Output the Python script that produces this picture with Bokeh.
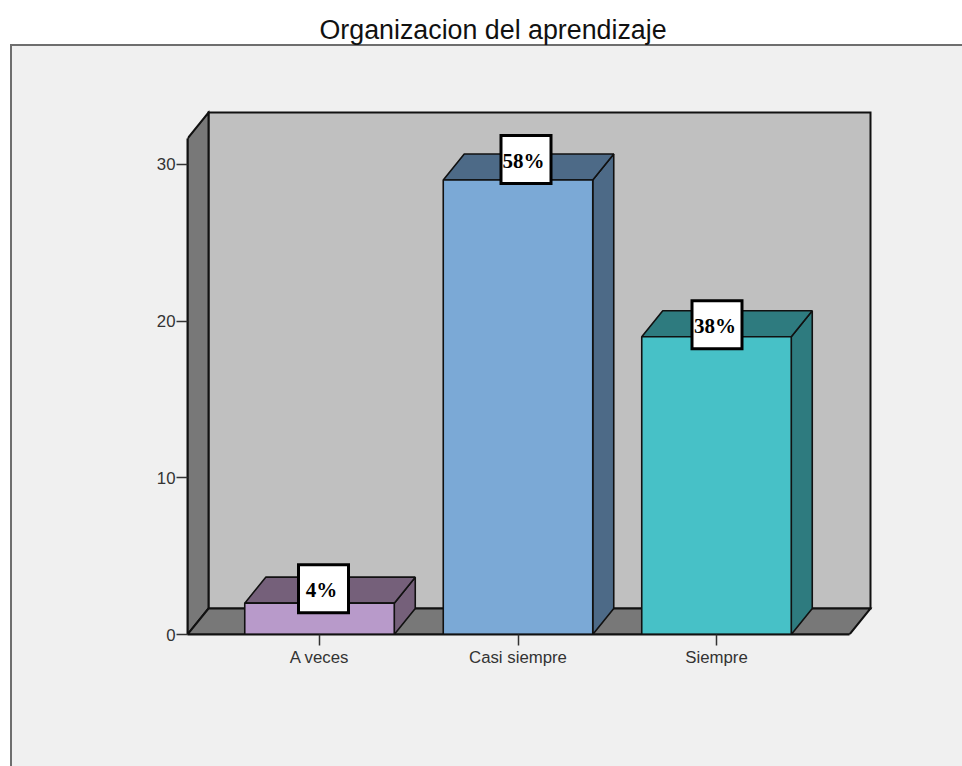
from bokeh.plotting import figure
from bokeh.models import FixedTicker, Range1d, Title
from bokeh.core.properties import value
from bokeh.embed import file_html
from bokeh.resources import INLINE

# ---- data
categories = ["A veces", "Casi siempre", "Siempre"]
counts = [2, 29, 19]
percent_labels = ["4%", "58%", "38%"]
y_ticks = [0, 10, 20, 30]
title_text = "Organizacion del aprendizaje"

# ---- styling
front_colors = ["#b89aca", "#7ba9d6", "#47c1c7"]
shade_colors = ["#75607a", "#4d6a87", "#2e7b7f"]
WALL, FLOOR, BACK, PANEL = "#787878", "#787878", "#c0c0c0", "#f0f0f0"
EDGE = "#111111"

# ---- geometry in scale units (1 x unit = one category step)
PX_X, PX_Y = 198.5, 15.67
bar_w = 149.5 / PX_X
dx = 21 / PX_X
dy = 26 / PX_Y
x_min = -132 / PX_X
x_floor_end = x_min + 662 / PX_X
label_dx = [4 / PX_X, 8 / PX_X, 0.5 / PX_X]      # label box offset from bar centre
label_dy = [-11.5 / PX_Y, -5.5 / PX_Y, -14 / PX_Y]
label_text_dx = [-2, -2.5, -2]

W, H = 962, 766
F_L, F_R, F_T, F_B = 187, 872, 110, 634  # frame edges in window pixels

p = figure(width=W, height=H, output_backend="svg", toolbar_location=None,
           x_range=Range1d(x_min, x_min + (F_R - F_L) / PX_X),
           y_range=Range1d(0, (F_B - F_T) / PX_Y),
           min_border_left=F_L, min_border_right=W - F_R,
           min_border_top=F_T, min_border_bottom=H - F_B,
           border_fill_color=None, background_fill_color=None,
           outline_line_color=None)
p.xgrid.visible = False
p.ygrid.visible = False

# outer panel: grey sheet with a darker top and left edge, behind the canvas
p.styles = {"background":
            f"linear-gradient({PANEL},{PANEL}) 12px 46px / 100% 100% no-repeat,"
            "linear-gradient(#6e6e6e,#6e6e6e) 10px 44px / 100% 100% no-repeat,"
            "white"}

# walls
p.patch([x_min + dx, x_floor_end + dx, x_floor_end + dx, x_min + dx],
        [dy, dy, (F_B - 112) / PX_Y, (F_B - 112) / PX_Y],
        fill_color=BACK, line_color=EDGE, line_width=2, line_join="miter")
p.patch([x_min, x_min + dx, x_min + dx, x_min],
        [0, dy, (F_B - 112) / PX_Y, (F_B - 138) / PX_Y],
        fill_color=WALL, line_color=EDGE, line_width=2, line_join="miter")
p.patch([x_min, x_floor_end, x_floor_end + dx, x_min + dx],
        [0, 0, dy, dy], fill_color=FLOOR, line_color=EDGE, line_width=2, line_join="miter")

# bars
for i, v in enumerate(counts):
    l, r = i - bar_w / 2, i + bar_w / 2
    p.patch([r, r + dx, r + dx, r], [0, dy, v + dy, v],
            fill_color=shade_colors[i], line_color=EDGE, line_width=1.6)
    p.patch([l, r, r + dx, l + dx], [v, v, v + dy, v + dy],
            fill_color=shade_colors[i], line_color=EDGE, line_width=1.6)
    p.patch([l, r, r, l], [0, 0, v, v],
            fill_color=front_colors[i], line_color=EDGE, line_width=1.6)

# percent labels
lx = [i + label_dx[i] for i in range(3)]
ly = [counts[i] + dy + label_dy[i] for i in range(3)]
p.rect(lx, ly, width=50, height=48, width_units="screen", height_units="screen",
       fill_color="white", line_color="black", line_width=3, line_join="miter")
p.text(lx, ly, text=percent_labels, text_font=value("Liberation Serif"),
       text_font_style="bold", text_font_size="21px", text_color="black",
       text_align="center", text_baseline="middle",
       x_offset=label_text_dx, y_offset=1)

# axes
p.yaxis.ticker = FixedTicker(ticks=y_ticks)
p.yaxis.bounds = (0, (F_B - 138) / PX_Y)
p.xaxis.ticker = FixedTicker(ticks=list(range(len(categories))))
p.xaxis.major_label_overrides = {i: c for i, c in enumerate(categories)}
p.xaxis.bounds = (x_min, x_floor_end)
for ax in (p.xaxis, p.yaxis):
    ax.major_tick_in = 0
    ax.major_tick_out = 11
    ax.minor_tick_in = 0
    ax.minor_tick_out = 0
    ax.major_tick_line_color = "#333333"
    ax.major_tick_line_width = 1.5
    ax.axis_line_color = EDGE
    ax.axis_line_width = 2
    ax.major_label_text_font = "Liberation Sans"
    ax.major_label_text_font_size = "16.8px"
    ax.major_label_text_color = "#333333"
    ax.major_label_standoff = 1
p.xaxis.major_label_standoff = 2

# title, stacked above an empty spacer title that lifts it clear of the frame
p.title.text = title_text
p.title.text_font = "Liberation Sans"
p.title.text_font_size = "26.8px"
p.title.text_font_style = "normal"
p.title.text_color = "#111111"
p.title.align = "left"
p.title.offset = 132
p.title.standoff = 0
p.add_layout(Title(text=" ", text_font_size="2px", standoff=62), "above")

open("out.html", "w").write(file_html(p, INLINE))
